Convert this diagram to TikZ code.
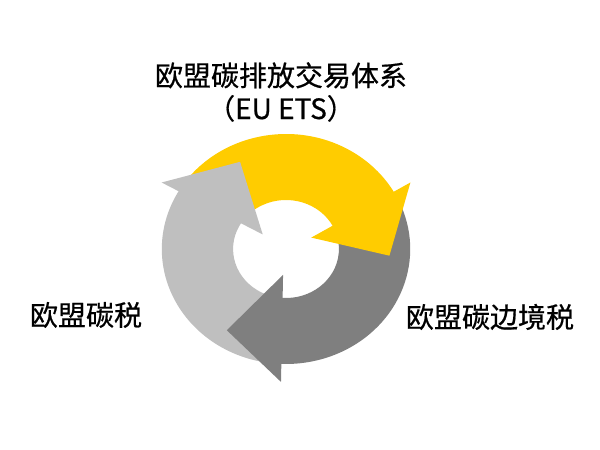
\documentclass[tikz,border=0pt]{standalone}
\usepackage{fontspec}
\setmainfont{Noto Sans CJK SC}[FakeBold=0.6]
\definecolor{etsyellow}{HTML}{FFCC00}
\definecolor{cbamgray}{HTML}{7F7F7F}
\definecolor{taxgray}{HTML}{BFBFBF}

\begin{document}
\begin{tikzpicture}[x=1pt, y=1pt, every node/.style={font=\fontsize{28}{33}\selectfont, inner sep=0pt}]

\tikzstyle{ets}=[fill=etsyellow]
\tikzstyle{cbam}=[fill=cbamgray]
\tikzstyle{tax}=[fill=taxgray]

\useasboundingbox (0,0) rectangle (600,450);

\begin{scope}[shift={(286,201)}, xscale=1.08]
% bodies of the three arrows
\path[ets] (145:115) arc[start angle=145, end angle=29.5, radius=115] -- (27:49) arc[start angle=27, end angle=145, radius=49] -- cycle;
\path[cbam] (25:115) arc[start angle=25, end angle=-92.5, radius=115] -- (-95:49) arc[start angle=-95, end angle=25, radius=49] -- cycle;
\path[tax] (-97:115) arc[start angle=-97, end angle=-210.5, radius=115] -- (-213.5:49) arc[start angle=-213.5, end angle=-97, radius=49] -- cycle;
% heads on top
\path[ets] (26:26) -- (30:133) -- (-4:96) -- cycle;
\path[cbam] (264:26) -- (268:133) -- (236:98) -- cycle;
\path[tax] (146:26) -- (150:133) -- (116:97) -- cycle;
\end{scope}

\node (etslabel) at (281,358) [align=center] {欧盟碳排放交易体系\\（EU ETS）};
\node (taxlabel) at (86,135) {欧盟碳税};
\node (cbamlabel) at (490,133) {欧盟碳边境税};
\end{tikzpicture}
\end{document}
